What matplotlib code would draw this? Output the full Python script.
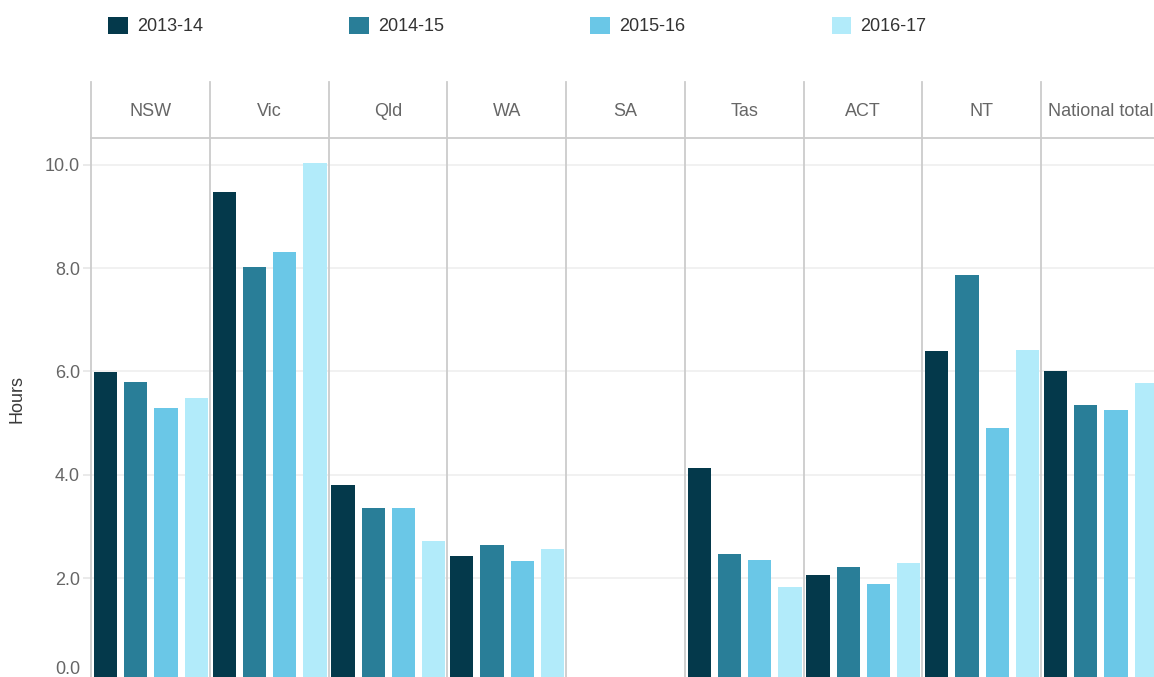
"""Hours per patient day by state and territory, 2013-14 to 2016-17 (faceted bars)."""
import matplotlib

matplotlib.use("Agg")
import matplotlib.pyplot as plt
import matplotlib.transforms as mtransforms
import numpy as np
from matplotlib.patches import Patch

plt.rcParams["font.family"] = ["Liberation Sans", "DejaVu Sans"]

states = ["NSW", "Vic", "Qld", "WA", "SA", "Tas", "ACT", "NT", "National total"]
years = ["2013-14", "2014-15", "2015-16", "2016-17"]
nan = np.nan
hours_2013_14 = [5.99, 9.48, 3.81, 2.42, nan, 4.13, 2.06, 6.40, 6.01]
hours_2014_15 = [5.79, 8.03, 3.35, 2.65, nan, 2.47, 2.22, 7.87, 5.35]
hours_2015_16 = [5.30, 8.32, 3.35, 2.34, nan, 2.35, 1.89, 4.91, 5.26]
hours_2016_17 = [5.48, 10.03, 2.71, 2.57, nan, 1.83, 2.29, 6.42, 5.78]
series = [hours_2013_14, hours_2014_15, hours_2015_16, hours_2016_17]
colors = ["#04394B", "#297E98", "#6AC7E7", "#B2EBFA"]

W, H = 1154, 677
fig = plt.figure(figsize=(W / 100, H / 100), dpi=100)

LINE = "#cccccc"
GRID = "#efefef"
TEXT = "#666666"
FS = 13

panel_left = 91
panel_w = 118.75
plot_top, plot_bottom = 138, 681.5
strip_top = 82
ymax = (plot_bottom - plot_top) / 51.67

x = np.arange(len(years))
axes = []
for i, state in enumerate(states):
    left = (panel_left + i * panel_w) / W
    ax = fig.add_axes([left, (H - plot_bottom) / H, panel_w / W,
                       (plot_bottom - plot_top) / H])
    vals = [s[i] for s in series]
    ax.bar(x, vals, width=0.77, color=colors, zorder=2)
    ax.set_xlim(-0.48, 3.45)
    ax.set_ylim(0, ymax)
    ax.set_yticks(np.arange(0, 10.1, 2.0))
    ax.grid(axis="y", color=GRID, linewidth=1.2, zorder=0)
    ax.set_axisbelow(True)
    for sp in ["top", "right", "bottom"]:
        ax.spines[sp].set_visible(False)
    ax.spines["left"].set_color(LINE)
    ax.spines["left"].set_linewidth(1.3)
    ax.set_xticks([])
    if i == 0:
        ax.tick_params(axis="y", length=6, color="#e6e6e6", width=1.2,
                       labelsize=FS, labelcolor=TEXT, pad=2)
        ax.set_yticklabels([f"{v:.1f}" for v in np.arange(0, 10.1, 2.0)])
        ax.set_ylabel("Hours", fontsize=FS, color="#3a3a3a")
        ax.yaxis.set_label_coords(-0.55, 0.52)
    else:
        ax.tick_params(axis="y", length=0, labelleft=False)

    # strip header
    sax = fig.add_axes([left, (H - plot_top) / H, panel_w / W,
                        (plot_top - strip_top) / H])
    sax.set_xticks([])
    sax.set_yticks([])
    for sp in ["top", "right"]:
        sax.spines[sp].set_visible(False)
    for sp in ["left", "bottom"]:
        sax.spines[sp].set_color(LINE)
        sax.spines[sp].set_linewidth(1.3)
    sax.patch.set_alpha(0)
    sax.text(0.5, 0.47, state, ha="center", va="center", fontsize=FS,
             color=TEXT, transform=sax.transAxes)
    axes.append(ax)

# lift the 0.0 label into view, as in the original
fig.canvas.draw()
first = axes[0].get_yticklabels()[0]
first.set_transform(first.get_transform()
                    + mtransforms.ScaledTranslation(0, 14 / 100, fig.dpi_scale_trans))

handles = [Patch(facecolor=c, edgecolor="none", label=y) for c, y in zip(colors, years)]
fig.legend(handles=handles, loc="center left", ncol=4, frameon=False,
           bbox_to_anchor=(108 / W, 1 - 26 / H), borderpad=0, borderaxespad=0,
           fontsize=FS, handlelength=1.1, handleheight=1.1, handletextpad=0.5,
           columnspacing=8.1, labelcolor="#333333")

fig.savefig("out.png", dpi=100, facecolor="white")
